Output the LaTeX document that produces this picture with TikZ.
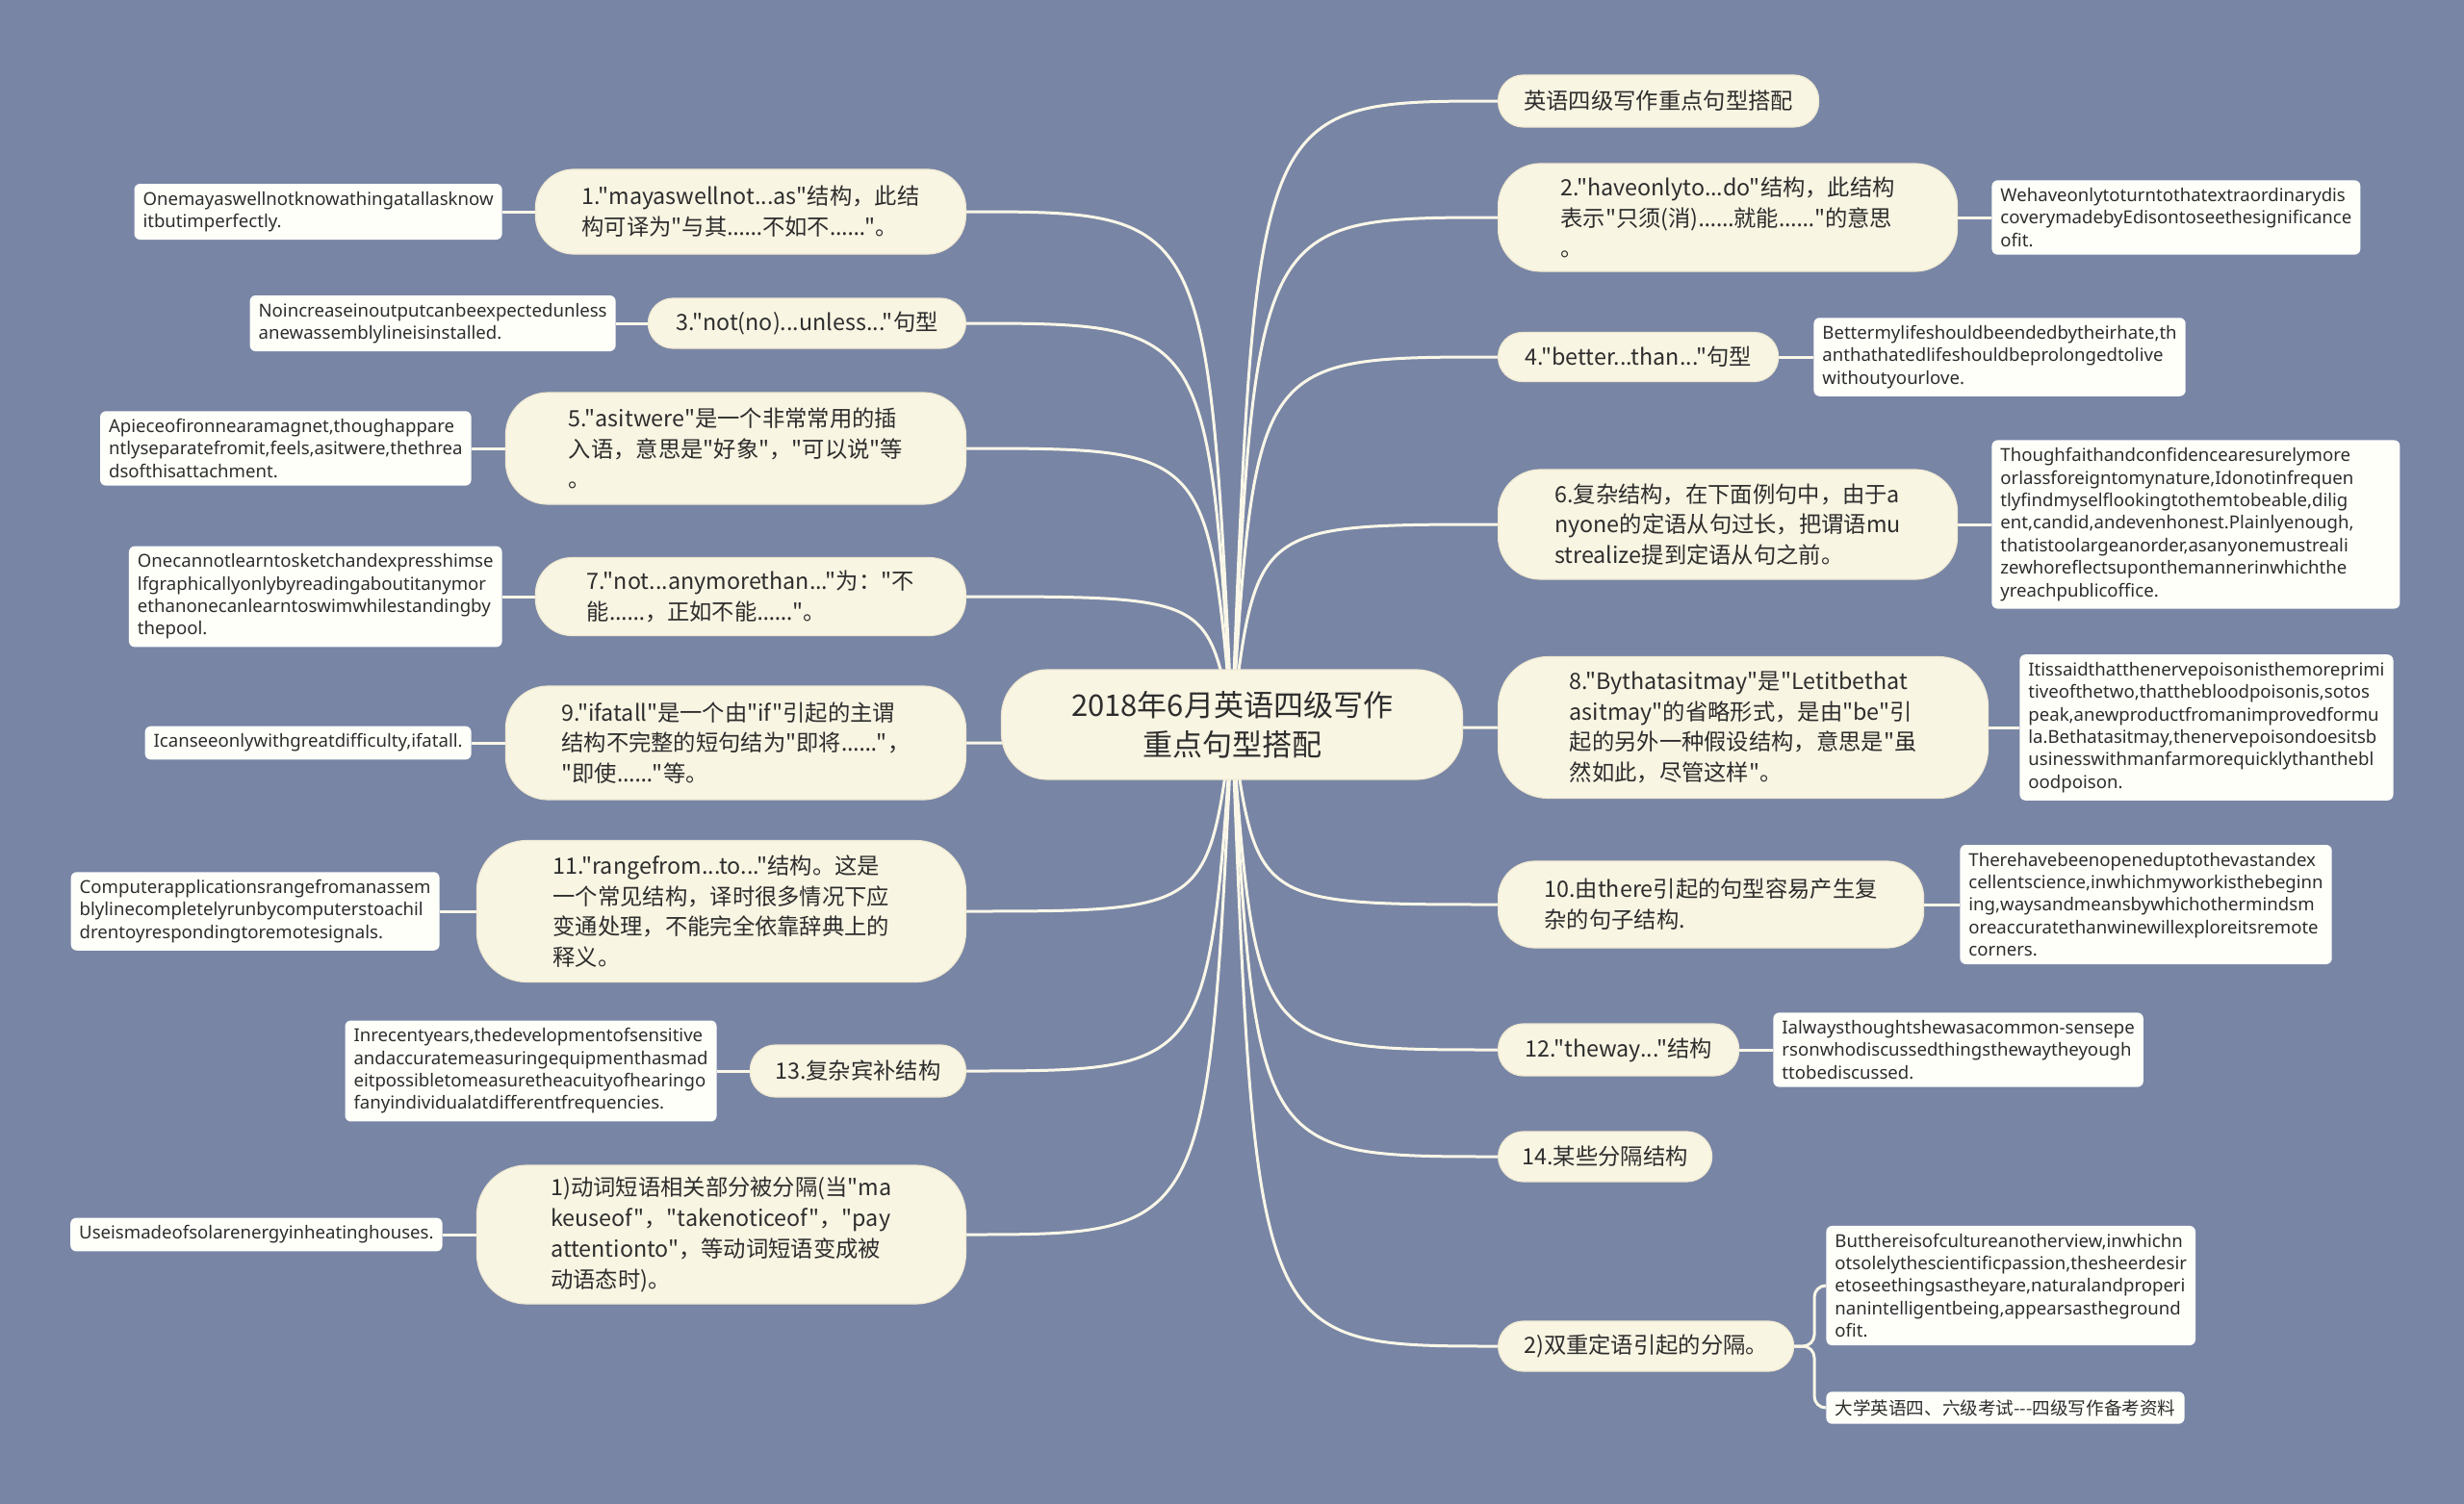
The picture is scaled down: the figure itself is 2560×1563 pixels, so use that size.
\documentclass[tikz,border=0pt]{standalone}
\usepackage{fontspec}
\newfontfamily\latinf{Noto Sans}
\newfontfamily\cjkf{Noto Sans CJK SC}
\usetikzlibrary{calc}
\definecolor{bgc}{RGB}{120,133,165}
\definecolor{mainc}{RGB}{249,245,227}
\definecolor{mainbd}{RGB}{240,234,210}
\definecolor{leafc}{RGB}{255,255,250}
\definecolor{linec}{RGB}{250,247,232}
\definecolor{txt}{RGB}{45,45,45}
\newcommand\myel{{\latinf ……}}
\pgfdeclarelayer{back}
\pgfsetlayers{back,main}
\tikzset{
  mainbox/.style={fill=mainc, draw=mainbd, line width=0.6pt, text=txt,
    font=\cjkf\fontsize{11.65pt}{15.9pt}\selectfont, align=left, inner sep=0pt},
  ctrbox/.style={fill=mainc, draw=mainbd, line width=0.6pt, text=txt,
    font=\cjkf\fontsize{15.5pt}{20.5pt}\selectfont, align=center, inner sep=0pt,
    rounded corners=24pt},
  leafbox/.style={fill=leafc, rounded corners=3pt, text=txt,
    font=\latinf\fontsize{9.3pt}{11.7pt}\selectfont, align=left,
    inner xsep=4.5pt, inner ysep=4pt},
  conn/.style={draw=linec, line width=1.5pt},
}
\newcommand\myRlink[1]{\draw[conn] (ctr.center) .. controls ($(ctr.center |- #1.west)+(25,0)$) .. (#1.west);}
\newcommand\myLlink[1]{\draw[conn] (ctr.center) .. controls ($(ctr.center |- #1.east)+(-25,0)$) .. (#1.east);}
\begin{document}
\begin{tikzpicture}[x=0.5pt,y=-0.5pt]
\useasboundingbox (0,0) rectangle (2560,1563);

% center
\node[ctrbox, minimum width=239.5pt, minimum height=57pt] (ctr) at (1280,753)
  {2018年6月英语四级写作\\重点句型搭配};

% right main nodes
\node[mainbox, rounded corners=13pt, minimum width=166.5pt, minimum height=27pt, anchor=west] (R1) at (1556,105)
  {英语四级写作重点句型搭配};
\node[mainbox, rounded corners=22pt, minimum width=238.5pt, minimum height=56pt, anchor=west] (R2) at (1556,226)
  {2."haveonlyto...do"结构，此结构\\表示"只须(消)\myel 就能\myel"的意思\\。};
\node[mainbox, rounded corners=12.5pt, minimum width=145.5pt, minimum height=25.5pt, anchor=west] (R3) at (1556,371)
  {4."better...than..."句型};
\node[mainbox, rounded corners=22pt, minimum width=238.5pt, minimum height=57pt, anchor=west] (R4) at (1556,545)
  {6.复杂结构，在下面例句中，由于a\\nyone的定语从句过长，把谓语mu\\strealize提到定语从句之前。};
\node[mainbox, rounded corners=26pt, minimum width=254.5pt, minimum height=73.5pt, anchor=west] (R5) at (1556,756)
  {8."Bythatasitmay"是"Letitbethat\\asitmay"的省略形式，是由"be"引\\起的另外一种假设结构，意思是"虽\\然如此，尽管这样"。};
\node[mainbox, rounded corners=19pt, minimum width=221pt, minimum height=45pt, anchor=west] (R6) at (1556,940)
  {10.由there引起的句型容易产生复\\杂的句子结构.};
\node[mainbox, rounded corners=13pt, minimum width=125pt, minimum height=27pt, anchor=west] (R7) at (1556,1091)
  {12."theway..."结构};
\node[mainbox, rounded corners=13pt, minimum width=111pt, minimum height=26pt, anchor=west] (R8) at (1556,1202)
  {14.某些分隔结构};
\node[mainbox, rounded corners=13pt, minimum width=153.5pt, minimum height=26pt, anchor=west] (R9) at (1556,1399)
  {2)双重定语引起的分隔。};

% left main nodes
\node[mainbox, rounded corners=20pt, minimum width=223.5pt, minimum height=44pt, anchor=east] (L1) at (1004,220)
  {1."mayaswellnot...as"结构，此结\\构可译为"与其\myel 不如不\myel"。};
\node[mainbox, rounded corners=13pt, minimum width=165pt, minimum height=26pt, anchor=east] (L2) at (1004,336)
  {3."not(no)...unless..."句型};
\node[mainbox, rounded corners=22pt, minimum width=239pt, minimum height=58pt, anchor=east] (L3) at (1004,466)
  {5."asitwere"是一个非常常用的插\\入语，意思是"好象"，"可以说"等\\。};
\node[mainbox, rounded corners=19pt, minimum width=223.5pt, minimum height=40.5pt, anchor=east] (L4) at (1004,620)
  {7."not...anymorethan..."为："不\\能\myel，正如不能\myel"。};
\node[mainbox, rounded corners=22pt, minimum width=239pt, minimum height=59pt, anchor=east] (L5) at (1004,772)
  {9."ifatall"是一个由"if"引起的主谓\\结构不完整的短句结为"即将\myel"，\\"即使\myel"等。};
\node[mainbox, rounded corners=26pt, minimum width=254pt, minimum height=73.5pt, anchor=east] (L6) at (1004,947)
  {11."rangefrom...to..."结构。这是\\一个常见结构，译时很多情况下应\\变通处理，不能完全依靠辞典上的\\释义。};
\node[mainbox, rounded corners=13pt, minimum width=112pt, minimum height=27pt, anchor=east] (L7) at (1004,1113)
  {13.复杂宾补结构};
\node[mainbox, rounded corners=26pt, minimum width=254pt, minimum height=72pt, anchor=east] (L8) at (1004,1283)
  {1)动词短语相关部分被分隔(当"ma\\keuseof"，"takenoticeof"，"pay\\attentionto"，等动词短语变成被\\动语态时)。};

% right leaves
\node[leafbox, anchor=west] (R2L) at (2069,226)
  {Wehaveonlytoturntothatextraordinarydis\\coverymadebyEdisontoseethesignificance\\ofit.};
\node[leafbox, anchor=west] (R3L) at (1884,371)
  {Bettermylifeshouldbeendedbytheirhate,th\\anthathatedlifeshouldbeprolongedtolive\\withoutyourlove.};
\node[leafbox, anchor=west, text width=203pt] (R4L) at (2069,545)
  {Thoughfaithandconfidencearesurelymore\\orlassforeigntomynature,Idonotinfrequen\\tlyfindmyselflookingtothemtobeable,dilig\\ent,candid,andevenhonest.Plainlyenough,\\thatistoolargeanorder,asanyonemustreali\\zewhoreflectsuponthemannerinwhichthe\\yreachpublicoffice.};
\node[leafbox, anchor=west] (R5L) at (2098,756)
  {Itissaidthatthenervepoisonisthemoreprimi\\tiveofthetwo,thatthebloodpoisonis,sotos\\peak,anewproductfromanimprovedformu\\la.Bethatasitmay,thenervepoisondoesitsb\\usinesswithmanfarmorequicklythanthebl\\oodpoison.};
\node[leafbox, anchor=west] (R6L) at (2036,940)
  {Therehavebeenopeneduptothevastandex\\cellentscience,inwhichmyworkisthebeginn\\ing,waysandmeansbywhichothermindsm\\oreaccuratethanwinewillexploreitsremote\\corners.};
\node[leafbox, anchor=west] (R7L) at (1842,1091)
  {Ialwaysthoughtshewasacommon-sensepe\\rsonwhodiscussedthingsthewaytheyough\\ttobediscussed.};
\node[leafbox, anchor=west] (R9L1) at (1897,1336)
  {Butthereisofcultureanotherview,inwhichn\\otsolelythescientificpassion,thesheerdesir\\etoseethingsastheyare,naturalandproperi\\nanintelligentbeing,appearsastheground\\ofit.};
\node[leafbox, anchor=west, font=\cjkf\fontsize{9.3pt}{11.7pt}\selectfont] (R9L2) at (1897,1463)
  {大学英语四、六级考试---四级写作备考资料};

% left leaves
\node[leafbox, anchor=east] (L1L) at (522,220)
  {Onemayaswellnotknowathingatallasknow\\itbutimperfectly.};
\node[leafbox, anchor=east] (L2L) at (640,336)
  {Noincreaseinoutputcanbeexpectedunless\\anewassemblylineisinstalled.};
\node[leafbox, anchor=east] (L3L) at (490,466)
  {Apieceofironnearamagnet,thoughappare\\ntlyseparatefromit,feels,asitwere,thethrea\\dsofthisattachment.};
\node[leafbox, anchor=east] (L4L) at (522,620)
  {Onecannotlearntosketchandexpresshimse\\lfgraphicallyonlybyreadingaboutitanymor\\ethanonecanlearntoswimwhilestandingby\\thepool.};
\node[leafbox, anchor=east] (L5L) at (490,772)
  {Icanseeonlywithgreatdifficulty,ifatall.};
\node[leafbox, anchor=east] (L6L) at (457,947)
  {Computerapplicationsrangefromanassem\\blylinecompletelyrunbycomputerstoachil\\drentoyrespondingtoremotesignals.};
\node[leafbox, anchor=east] (L7L) at (745,1113)
  {Inrecentyears,thedevelopmentofsensitive\\andaccuratemeasuringequipmenthasmad\\eitpossibletomeasuretheacuityofhearingo\\fanyindividualatdifferentfrequencies.};
\node[leafbox, anchor=east] (L8L) at (460,1283)
  {Useismadeofsolarenergyinheatinghouses.};

\begin{pgfonlayer}{back}
  \fill[bgc] (0,0) rectangle (2560,1563);
  \myRlink{R1} \myRlink{R2} \myRlink{R3} \myRlink{R4} \myRlink{R5}
  \myRlink{R6} \myRlink{R7} \myRlink{R8} \myRlink{R9}
  \myLlink{L1} \myLlink{L2} \myLlink{L3} \myLlink{L4}
  \myLlink{L5} \myLlink{L6} \myLlink{L7} \myLlink{L8}
  \draw[conn] (R2.east) -- (R2L.west);
  \draw[conn] (R3.east) -- (R3L.west);
  \draw[conn] (R4.east) -- (R4L.west);
  \draw[conn] (R5.east) -- (R5L.west);
  \draw[conn] (R6.east) -- (R6L.west);
  \draw[conn] (R7.east) -- (R7L.west);
  \draw[conn, rounded corners=6pt] (R9.east) -| ($(R9L1.west)+(-12,0)$) -- (R9L1.west);
  \draw[conn, rounded corners=6pt] (R9.east) -| ($(R9L2.west)+(-12,0)$) -- (R9L2.west);
  \draw[conn] (L1.west) -- (L1L.east);
  \draw[conn] (L2.west) -- (L2L.east);
  \draw[conn] (L3.west) -- (L3L.east);
  \draw[conn] (L4.west) -- (L4L.east);
  \draw[conn] (L5.west) -- (L5L.east);
  \draw[conn] (L6.west) -- (L6L.east);
  \draw[conn] (L7.west) -- (L7L.east);
  \draw[conn] (L8.west) -- (L8L.east);
\end{pgfonlayer}
\end{tikzpicture}
\end{document}
